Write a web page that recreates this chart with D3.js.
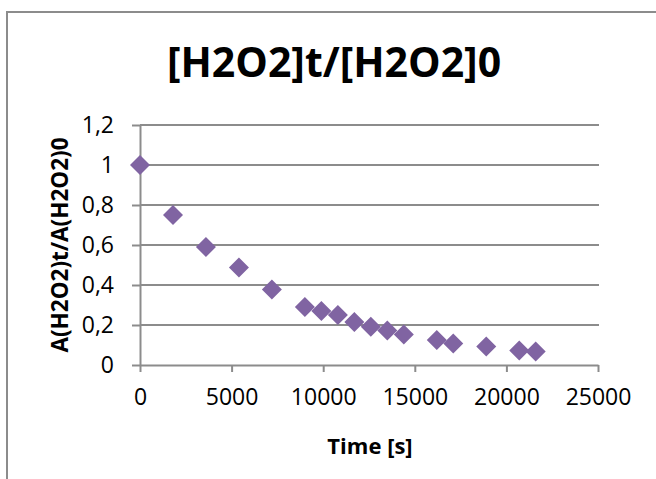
<!DOCTYPE html>
<html>
<head>
<meta charset="utf-8">
<script src="https://cdn.jsdelivr.net/npm/d3@7"></script>
<style>
  body { margin: 0; background: #fff; }
  svg { display: block; font-family: "Open Sans", sans-serif; }
</style>
</head>
<body>
<svg id="chart" width="656" height="479"></svg>
<script>
// data
const times = [0, 1800, 3600, 5400, 7200, 9000, 9900, 10800, 11700, 12600, 13500, 14400, 16200, 17100, 18900, 20700, 21600];
const ratios = [1.0, 0.75, 0.59, 0.487, 0.378, 0.29, 0.27, 0.25, 0.215, 0.191, 0.173, 0.152, 0.125, 0.108, 0.092, 0.072, 0.067];

const xTicks = [0, 5000, 10000, 15000, 20000, 25000];
const xTickLabels = ["0", "5000", "10000", "15000", "20000", "25000"];
const yTicks = [0, 0.2, 0.4, 0.6, 0.8, 1, 1.2];
const yTickLabels = ["0", "0,2", "0,4", "0,6", "0,8", "1", "1,2"];

const title = "[H2O2]t/[H2O2]0";
const xTitle = "Time [s]";
const yTitle = "A(H2O2)t/A(H2O2)0";

const svg = d3.select("#chart");
const gridColor = "#8c8c8c";
const markColor = "#8064a2";

const x = d3.scaleLinear().domain([0, 25000]).range([140, 598]);
const y = d3.scaleLinear().domain([0, 1.2]).range([365, 125]);

// chart frame (runs past the right/bottom edge like the screenshot)
svg.append("rect")
  .attr("x", 7).attr("y", 12)
  .attr("width", 700).attr("height", 520)
  .attr("fill", "none")
  .attr("stroke", gridColor)
  .attr("stroke-width", 2);

// horizontal gridlines
svg.append("g")
  .selectAll("line")
  .data(yTicks.filter(d => d > 0))
  .join("line")
  .attr("x1", 140).attr("x2", 599)
  .attr("y1", d => y(d)).attr("y2", d => y(d))
  .attr("stroke", gridColor)
  .attr("stroke-width", 2);

// y axis
const yAxis = svg.append("g")
  .attr("transform", "translate(140,0)")
  .call(d3.axisLeft(y)
    .tickValues(yTicks)
    .tickFormat((d, i) => yTickLabels[i])
    .tickSize(8)
    .tickSizeOuter(0)
    .tickPadding(18));

// x axis
const xAxis = svg.append("g")
  .attr("transform", "translate(0,365)")
  .call(d3.axisBottom(x)
    .tickValues(xTicks)
    .tickFormat((d, i) => xTickLabels[i])
    .tickSize(7)
    .tickSizeOuter(0)
    .tickPadding(17));

[yAxis, xAxis].forEach(g => {
  g.selectAll("path.domain").attr("stroke", gridColor).attr("stroke-width", 2);
  g.selectAll(".tick line").attr("stroke", gridColor).attr("stroke-width", 2);
  g.selectAll(".tick text")
    .attr("fill", "#000")
    .style("font-family", "'Open Sans', sans-serif")
    .style("font-size", "23px");
});

// square diamond marker
const diamond = {
  draw(ctx, size) {
    const r = Math.sqrt(size / 2);
    ctx.moveTo(0, -r);
    ctx.lineTo(r, 0);
    ctx.lineTo(0, r);
    ctx.lineTo(-r, 0);
    ctx.closePath();
  }
};

svg.append("g")
  .selectAll("path")
  .data(times.map((t, i) => ({ t, v: ratios[i] })))
  .join("path")
  .attr("transform", d => `translate(${x(d.t)},${y(d.v)})`)
  .attr("d", d3.symbol().type(diamond).size(200))
  .attr("fill", markColor);

// titles
svg.append("text")
  .attr("x", 334).attr("y", 77)
  .attr("text-anchor", "middle")
  .style("font-size", "41px")
  .style("font-weight", "bold")
  .text(title);

svg.append("text")
  .attr("x", 370).attr("y", 454)
  .attr("text-anchor", "middle")
  .style("font-size", "22px")
  .style("font-weight", "bold")
  .text(xTitle);

svg.append("text")
  .attr("transform", "translate(68,245) rotate(-90)")
  .attr("text-anchor", "middle")
  .style("font-size", "22.5px")
  .style("font-weight", "bold")
  .text(yTitle);
</script>
</body>
</html>
